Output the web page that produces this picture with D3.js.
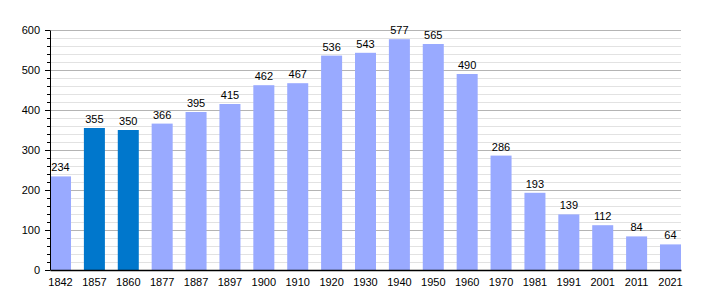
<!DOCTYPE html>
<html>
<head>
<meta charset="utf-8">
<script src="https://cdn.jsdelivr.net/npm/d3@7"></script>
<style>
  body { margin: 0; background: #fff; }
  text { font-family: "Liberation Sans", Arial, sans-serif; font-size: 11px; fill: #000; }
</style>
</head>
<body>
<div class="chart"></div>
<script>
// census years and population
const years = ["1842","1857","1860","1877","1887","1897","1900","1910","1920","1930","1940","1950","1960","1970","1981","1991","2001","2011","2021"];
const population = [234,355,350,366,395,415,462,467,536,543,577,565,490,286,193,139,112,84,64];
const highlighted = ["1857","1860"];
const yTicks = [0,100,200,300,400,500,600];

const width = 710, height = 300;
const margin = {top: 30, right: 29, bottom: 30, left: 50};

let svg = d3.select(".chart")
            .append("svg")
            .attr("width", width)
            .attr("height", height);

let xScale = d3.scaleBand()
               .domain(years)
               .range([margin.left, width - margin.right])
               .paddingInner(0.38)
               .paddingOuter(0);

let yScale = d3.scaleLinear()
               .domain([0, 600])
               .range([height - margin.bottom, margin.top]);

// minor grid every 20
let minor = d3.range(0, 601, 20).filter(v => v % 100 != 0);
svg.append("g")
   .selectAll("line")
   .data(minor)
   .enter()
   .append("line")
   .attr("x1", margin.left)
   .attr("x2", width - margin.right)
   .attr("y1", d => yScale(d) + 0.5)
   .attr("y2", d => yScale(d) + 0.5)
   .attr("stroke", "#e2e2e2");

// major grid
svg.append("g")
   .selectAll("line")
   .data(yTicks.slice(1))
   .enter()
   .append("line")
   .attr("x1", margin.left)
   .attr("x2", width - margin.right)
   .attr("y1", d => yScale(d) + 0.5)
   .attr("y2", d => yScale(d) + 0.5)
   .attr("stroke", "#b4b4b4");

// bars
svg.append("g")
   .selectAll("rect")
   .data(years)
   .enter()
   .append("rect")
   .attr("x", d => xScale(d))
   .attr("y", (d, i) => yScale(population[i]))
   .attr("width", xScale.bandwidth())
   .attr("height", (d, i) => yScale(0) - yScale(population[i]))
   .attr("fill", d => highlighted.includes(d) ? "#0077cc" : "#99aaff");

// value labels
svg.append("g")
   .selectAll("text")
   .data(years)
   .enter()
   .append("text")
   .attr("x", d => xScale(d) + xScale.bandwidth() / 2)
   .attr("y", (d, i) => yScale(population[i]) - 5)
   .style("text-anchor", "middle")
   .text((d, i) => population[i]);

// left axis: major ticks with labels, minor ticks shorter
let yAxis = d3.axisLeft(yScale)
              .tickValues(d3.range(0, 601, 20))
              .tickSizeOuter(0)
              .tickFormat(d => yTicks.includes(d) ? d : "");
svg.append("g")
   .attr("transform", "translate(" + margin.left + ",0)")
   .call(yAxis)
   .call(g => g.select(".domain").attr("stroke", "#000"))
   .call(g => g.selectAll(".tick line").attr("x2", d => yTicks.includes(d) ? -5 : -3))
   .call(g => g.selectAll("text").style("font-size", "11px").attr("x", -10));

// bottom axis
let xAxis = d3.axisBottom(xScale).tickSize(0).tickSizeOuter(0).tickPadding(8);
svg.append("g")
   .attr("transform", "translate(0," + (height - margin.bottom) + ")")
   .call(xAxis)
   .call(g => g.select(".domain").attr("stroke", "#000").attr("stroke-width", 1.5))
   .call(g => g.selectAll("text").style("font-size", "11px"));
</script>
</body>
</html>
